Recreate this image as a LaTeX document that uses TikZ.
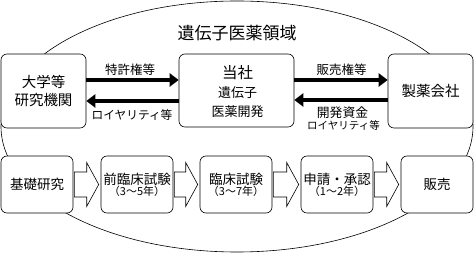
\documentclass[tikz,border=0pt]{standalone}
\usepackage{fontspec}
\setmainfont{Noto Sans CJK JP}
\usetikzlibrary{arrows.meta,calc}
\tikzset{
  box/.style={draw, rounded corners=6pt, fill=white, line width=0.6pt, align=center, inner sep=0pt},
  thick arrow/.style={line width=4pt, -{Triangle[length=9pt,width=13pt]}},
  barrow/.style={draw, fill=white, line width=0.6pt, line join=miter},
  lbl/.style={font=\fontsize{12.5}{14}\selectfont, inner sep=0pt}
}
\begin{document}
\begin{tikzpicture}[x=1pt,y=-1pt]
\useasboundingbox (0,0) rectangle (474,253);
\draw[line width=0.6pt] (237,126.5) ellipse [x radius=236pt, y radius=125.5pt];
\node[font=\fontsize{17}{19}\selectfont] (title) at (237,33) {遺伝子医薬領域};
% top row
\node[box, minimum width=85pt, minimum height=74pt, font=\fontsize{14.5}{18}\selectfont] (univ) at (43.5,91) {大学等\\研究機関};
\node[box, minimum width=115pt, minimum height=73pt] (co) at (236.5,90.5) {};
\node[font=\fontsize{15.5}{17}\selectfont, inner sep=0pt] (co1) at (237.5,73) {当社};
\node[font=\fontsize{13}{19}\selectfont, inner sep=0pt, align=center] (co2) at (237.5,102.5) {遺伝子\\医薬開発};
\node[box, minimum width=85pt, minimum height=74pt, font=\fontsize{14.5}{18}\selectfont] (pharma) at (430.5,91) {製薬会社};
\draw[thick arrow] (univ.east |- 0,80) -- (co.west |- 0,80);
\draw[thick arrow] (co.west |- 0,101) -- (univ.east |- 0,101);
\draw[thick arrow] (co.east |- 0,80) -- (pharma.west |- 0,80);
\draw[thick arrow] (pharma.west |- 0,100) -- (co.east |- 0,100);
\node[lbl] (l1) at (130,70) {特許権等};
\node[lbl, font=\fontsize{11.7}{14}\selectfont] (l2) at (132,115) {ロイヤリティ等};
\node[lbl] (l3) at (341.5,70) {販売権等};
\node[lbl, font=\fontsize{12.8}{14}\selectfont] (l4) at (342.5,113) {開発資金};
\node[lbl, font=\fontsize{10.5}{12}\selectfont] (l5) at (343.5,125) {ロイヤリティ等};
% bottom row
\tikzset{bbox/.style={box, minimum width=72pt, minimum height=57pt}}
\node[bbox, font=\fontsize{13.5}{16}\selectfont] (b1) at (37,184.5) {基礎研究};
\node[bbox] (b2) at (137,184.5) {\fontsize{13.5}{16}\selectfont 前臨床試験\\[-1pt]\fontsize{11}{14}\selectfont （3〜5年）};
\node[bbox] (b3) at (236,184.5) {\fontsize{13.5}{16}\selectfont 臨床試験\\[-1pt]\fontsize{11}{14}\selectfont （3〜7年）};
\node[bbox] (b4) at (337,184.5) {\fontsize{13.5}{16}\selectfont 申請・承認\\[-1pt]\fontsize{11}{14}\selectfont （1〜2年）};
\node[bbox, font=\fontsize{13.5}{16}\selectfont] (b5) at (437,184.5) {販売};
\foreach \a/\b in {b1/b2,b2/b3,b3/b4,b4/b5}{
  \draw[barrow] let \p1=(\a.east), \p2=(\b.west) in
    (\x1+1pt,\y1+12.5pt) -- (\x2-14pt,\y1+12.5pt) -- (\x2-14pt,\y1+22pt) -- (\x2-2pt,\y1)
    -- (\x2-14pt,\y1-22pt) -- (\x2-14pt,\y1-12.5pt) -- (\x1+1pt,\y1-12.5pt) -- cycle;
}
\end{tikzpicture}
\end{document}
